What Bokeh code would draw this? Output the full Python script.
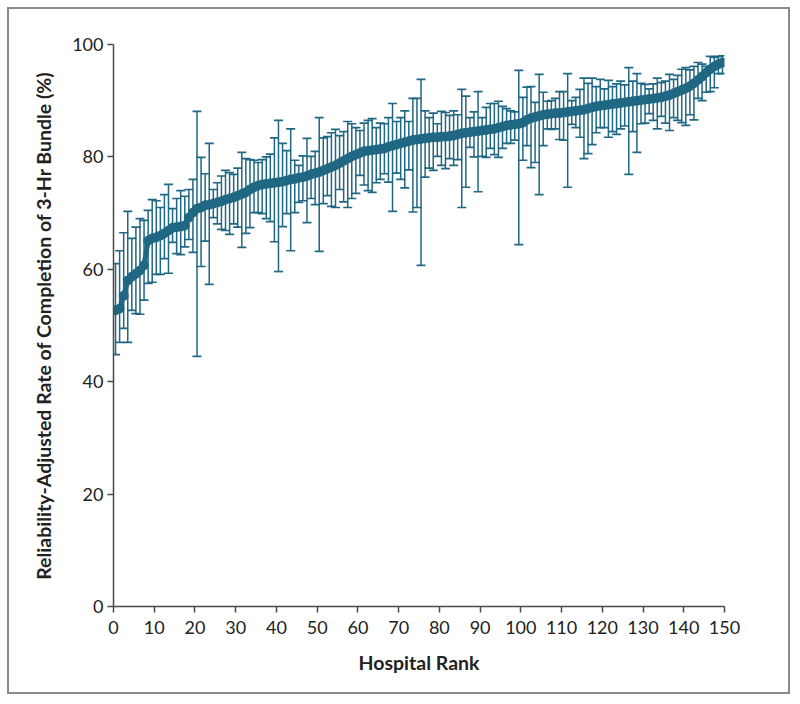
from bokeh.plotting import figure
from bokeh.models import ColumnDataSource, Range1d, FixedTicker, Whisker, TeeHead
from bokeh.embed import file_html
from bokeh.resources import INLINE

rank = list(range(1, 151))
rate = [52.7, 53.0, 55.3, 58.0, 58.7, 59.2, 59.8, 60.7, 65.1, 65.5,
        65.7, 66.0, 66.4, 66.9, 67.4, 67.5, 67.6, 67.8, 69.2, 70.1,
        70.8, 71.0, 71.4, 71.5, 71.7, 71.9, 72.1, 72.4, 72.6, 72.8,
        73.1, 73.4, 73.7, 74.2, 74.6, 74.9, 75.1, 75.2, 75.3, 75.4,
        75.5, 75.6, 75.8, 76.0, 76.1, 76.3, 76.4, 76.6, 76.9, 77.1,
        77.3, 77.6, 77.9, 78.2, 78.5, 78.9, 79.3, 79.7, 80.1, 80.4,
        80.7, 81.0, 81.1, 81.2, 81.3, 81.4, 81.5, 81.8, 82.0, 82.2,
        82.4, 82.6, 82.8, 83.0, 83.1, 83.2, 83.3, 83.4, 83.5, 83.5,
        83.6, 83.6, 83.7, 83.8, 84.0, 84.2, 84.3, 84.4, 84.5, 84.6,
        84.7, 84.8, 84.9, 85.0, 85.2, 85.4, 85.6, 85.7, 85.8, 85.9,
        86.1, 86.6, 86.9, 87.1, 87.3, 87.5, 87.6, 87.7, 87.8, 87.8,
        87.9, 88.0, 88.1, 88.2, 88.3, 88.4, 88.6, 88.8, 89.0, 89.1,
        89.2, 89.3, 89.4, 89.5, 89.6, 89.7, 89.8, 89.9, 90.0, 90.1,
        90.2, 90.3, 90.4, 90.5, 90.6, 90.8, 91.0, 91.3, 91.6, 91.9,
        92.2, 92.6, 93.1, 93.7, 94.3, 95.0, 95.6, 96.1, 96.5, 96.8]
upper = [61.0, 63.3, 66.5, 70.3, 65.5, 67.5, 69.0, 68.7, 70.5, 72.4,
         72.2, 71.0, 73.3, 75.1, 70.8, 72.6, 74.0, 73.0, 74.2, 76.0,
         88.1, 79.9, 77.0, 82.4, 74.2, 75.4, 76.6, 77.6, 77.2, 76.9,
         78.0, 80.8, 79.7, 79.5, 79.4, 79.0, 79.5, 80.0, 80.5, 83.4,
         86.5, 82.4, 81.1, 85.0, 79.4, 78.5, 80.2, 83.3, 80.1, 81.0,
         87.0, 83.4, 83.6, 84.3, 84.9, 83.8, 84.5, 86.3, 85.9, 85.2,
         84.7, 86.0, 86.5, 86.8, 85.2, 86.0, 85.9, 87.0, 89.5, 86.3,
         87.0, 88.2, 86.3, 90.4, 90.4, 93.8, 88.2, 87.0, 87.8, 85.9,
         88.1, 87.9, 87.4, 88.2, 87.5, 92.0, 90.8, 87.0, 88.0, 91.6,
         87.0, 88.8, 89.5, 89.5, 89.9, 89.0, 88.6, 88.2, 88.0, 95.4,
         90.6, 92.4, 92.5, 89.7, 94.7, 91.5, 89.9, 90.0, 90.4, 91.6,
         91.6, 94.8, 90.0, 90.6, 92.0, 94.0, 93.1, 94.0, 92.5, 93.8,
         92.1, 93.6, 92.5, 93.0, 93.5, 92.8, 95.9, 93.5, 94.8, 93.1,
         92.9, 92.1, 93.0, 94.0, 93.2, 93.5, 94.7, 93.8, 94.5, 95.6,
         95.9, 95.5, 96.1, 96.8, 96.5, 96.1, 97.9, 97.7, 97.9, 98.0]
lower = [44.8, 47.0, 49.5, 47.0, 52.7, 52.1, 52.0, 54.5, 57.5, 57.7,
         59.1, 59.1, 61.9, 59.3, 64.8, 62.8, 62.6, 64.0, 65.3, 63.0,
         44.5, 60.5, 65.0, 57.3, 69.2, 68.1, 67.1, 66.9, 66.2, 68.1,
         67.5, 63.9, 66.4, 67.4, 70.1, 70.1, 69.9, 69.0, 68.5, 64.9,
         59.6, 67.6, 69.9, 63.3, 70.1, 71.9, 72.2, 68.3, 72.6, 71.5,
         63.2, 71.7, 73.1, 71.2, 71.0, 74.2, 72.0, 71.0, 72.6, 73.5,
         76.7, 75.0, 74.0, 73.7, 75.4, 76.0, 77.0, 75.5, 70.3, 77.1,
         76.0, 74.5, 77.7, 70.2, 71.0, 60.7, 76.4, 78.0, 77.6, 80.1,
         78.5, 77.9, 79.7, 78.5, 79.5, 71.0, 74.6, 81.7, 80.0, 73.8,
         80.1, 79.9, 81.5, 80.4, 79.9, 81.5, 82.4, 82.4, 83.0, 64.4,
         79.4, 82.0, 78.1, 79.0, 73.3, 82.0, 85.0, 84.9, 85.0, 83.1,
         83.0, 74.6, 85.8, 85.2, 83.5, 79.7, 80.6, 82.2, 84.3, 85.2,
         85.2, 83.5, 84.5, 84.0, 85.0, 85.5, 76.9, 84.5, 80.8, 85.9,
         86.0, 87.7, 86.5, 85.0, 87.2, 86.0, 84.7, 87.0, 86.5, 86.1,
         85.6, 87.5, 86.6, 90.4, 90.0, 91.5, 91.6, 92.3, 94.8, 94.8]
x_ticks = [0, 10, 20, 30, 40, 50, 60, 70, 80, 90, 100, 110, 120, 130, 140, 150]
y_ticks = [0, 20, 40, 60, 80, 100]

pos = [r - 0.5 for r in rank]
src = ColumnDataSource(dict(x=pos, y=rate, up=upper, lo=lower))

teal = "#1f6782"
axis_col = "#4a4a4a"
font = "Lato"

p = figure(width=783, height=687, x_range=Range1d(0, 150), y_range=Range1d(0, 100),
           output_backend="svg", toolbar_location=None,
           min_border_left=104, min_border_right=68, min_border_top=35, min_border_bottom=90)
p.styles = {"border": "2px solid #8a8a8a", "margin": "7px 0 0 7px"}
p.outline_line_color = None
p.xgrid.visible = False
p.ygrid.visible = False

w = Whisker(source=src, base="x", upper="up", lower="lo", dimension="height",
            line_color=teal, line_width=1.5,
            upper_head=TeeHead(size=9, line_color=teal, line_width=1.7),
            lower_head=TeeHead(size=9, line_color=teal, line_width=1.7))
p.add_layout(w)
p.line("x", "y", source=src, line_width=5, color=teal)
p.scatter("x", "y", source=src, size=9, color=teal, line_color=teal)

for ax in (p.xaxis[0], p.yaxis[0]):
    ax.axis_line_color = axis_col
    ax.axis_line_width = 1.5
    ax.major_tick_line_color = axis_col
    ax.major_tick_line_width = 1.5
    ax.major_tick_out = 6
    ax.major_tick_in = 0
    ax.minor_tick_line_color = None
    ax.major_label_text_font = font
    ax.major_label_text_font_size = "18px"
    ax.major_label_text_color = "#222222"
    ax.axis_label_text_font = font
    ax.axis_label_text_font_style = "bold"
    ax.axis_label_text_font_size = "19.5px"
    ax.axis_label_text_color = "#222222"

p.xaxis.ticker = FixedTicker(ticks=x_ticks)
p.yaxis.ticker = FixedTicker(ticks=y_ticks)
p.xaxis.axis_label = "Hospital Rank"
p.yaxis.axis_label = "Reliability-Adjusted Rate of Completion of 3-Hr Bundle (%)"
p.xaxis.major_label_standoff = 8
p.yaxis.major_label_standoff = 4
p.xaxis.axis_label_standoff = 14
p.yaxis.axis_label_standoff = 14

open("out.html", "w").write(file_html(p, INLINE))
